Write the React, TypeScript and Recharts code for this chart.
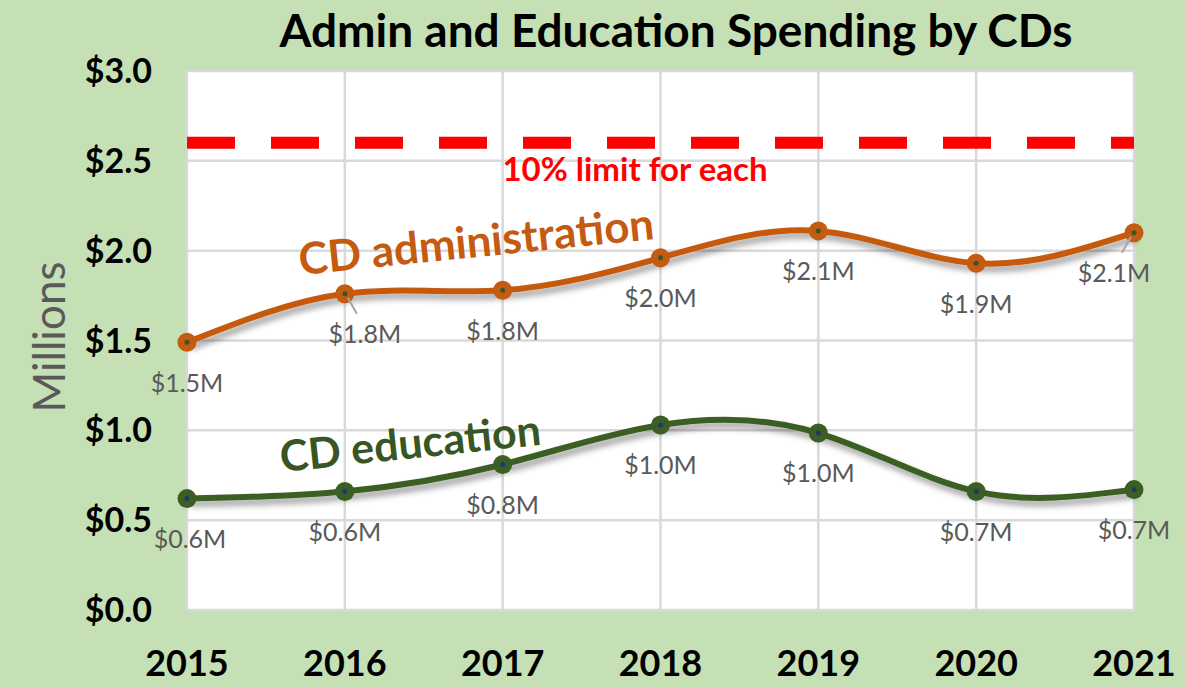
import React from "react";
import {
  LineChart, Line, XAxis, YAxis, CartesianGrid, ReferenceLine, LabelList,
} from "recharts";

const years = ["2015", "2016", "2017", "2018", "2019", "2020", "2021"];
const adminSpend = [1.49, 1.76, 1.78, 1.96, 2.11, 1.93, 2.1];
const eduSpend = [0.62, 0.66, 0.81, 1.03, 0.985, 0.66, 0.67];
const adminLabels = ["$1.5M", "$1.8M", "$1.8M", "$2.0M", "$2.1M", "$1.9M", "$2.1M"];
const eduLabels = ["$0.6M", "$0.6M", "$0.8M", "$1.0M", "$1.0M", "$0.7M", "$0.7M"];
const yTicks = [0, 0.5, 1, 1.5, 2, 2.5, 3];
const limitValue = 2.6;

const ORANGE = "#C55A11";
const GREEN = "#3B5E24";
const BG = "#C5E0B4";
const FONT = "Lato, 'Open Sans', sans-serif";

const data = years.map((year, i) => ({
  year,
  admin: adminSpend[i],
  edu: eduSpend[i],
  adminLabel: adminLabels[i],
  eduLabel: eduLabels[i],
}));

// small nudges so labels sit like the original (dx, with leader line?)
const adminNudge: Record<number, [number, boolean]> = { 1: [20, true], 6: [-20, true] };
const eduNudge: Record<number, [number, boolean]> = { 0: [3, false] };

function makeLabel(nudge: Record<number, [number, boolean]>) {
  return (props: any) => {
    const { x, y, value, index } = props;
    const [dx, leader] = nudge[index] ?? [0, false];
    return (
      <g>
        {leader && (
          <line
            x1={x + (dx > 0 ? 3 : -3)} y1={y + 4}
            x2={x + dx * 0.6} y2={y + 20}
            stroke="#a6a6a6" strokeWidth={2}
          />
        )}
        <text
          x={x + dx} y={y + 43} textAnchor="middle" dominantBaseline="middle"
          fontSize={25} fill="#595959" fontFamily={FONT}
        >
          {value}
        </text>
      </g>
    );
  };
}

function makeDot(outer: string, inner: string) {
  return (props: any) => {
    const { cx, cy, index } = props;
    return (
      <g key={index}>
        <circle cx={cx} cy={cy} r={9.5} fill={outer} />
        <circle cx={cx} cy={cy} r={2.5} fill={inner} />
      </g>
    );
  };
}

export default function App() {
  return (
    <div style={{ position: "relative", width: 1186, height: 687, background: BG, fontFamily: FONT, overflow: "hidden" }}>
      <style>{`body{margin:0}`}</style>
      <LineChart
        width={1186}
        height={687}
        data={data}
        margin={{ top: 71, right: 52, bottom: 0, left: 0 }}
      >
        <defs>
          <filter id="shadow" x="-10%" y="-30%" width="120%" height="160%">
            <feDropShadow dx={3} dy={5} stdDeviation={3} floodColor="#000" floodOpacity={0.4} />
          </filter>
        </defs>
        <CartesianGrid fill="#ffffff" stroke="#d9d9d9" strokeWidth={2.5} />
        <XAxis
          dataKey="year"
          axisLine={false}
          tickLine={false}
          tickSize={0}
          tickMargin={40}
          height={77}
          tick={{ fontSize: 36, fontWeight: 700, fill: "#000", fontFamily: FONT }}
        />
        <YAxis
          domain={[0, 3]}
          ticks={yTicks}
          width={187}
          axisLine={false}
          tickLine={false}
          tickSize={0}
          tickMargin={35}
          tickFormatter={(v: number) => `$${v.toFixed(1)}`}
          tick={{ fontSize: 34, fontWeight: 700, fill: "#000", fontFamily: FONT }}
        />
        <ReferenceLine y={limitValue} stroke="#FF0000" strokeWidth={12} strokeDasharray="48 36" />
        <Line
          dataKey="admin"
          type="natural"
          stroke={ORANGE}
          strokeWidth={6}
          filter="url(#shadow)"
          dot={makeDot(ORANGE, "#375623")}
          isAnimationActive={false}
        >
          <LabelList dataKey="adminLabel" content={makeLabel(adminNudge)} />
        </Line>
        <Line
          dataKey="edu"
          type="natural"
          stroke={GREEN}
          strokeWidth={6}
          filter="url(#shadow)"
          dot={makeDot(GREEN, "#1F3864")}
          isAnimationActive={false}
        >
          <LabelList dataKey="eduLabel" content={makeLabel(eduNudge)} />
        </Line>
      </LineChart>

      <div style={{ position: "absolute", left: 0, width: 1352, top: 2, textAlign: "center", fontSize: 46, fontWeight: 700, color: "#000", lineHeight: "56px" }}>
        Admin and Education Spending by CDs
      </div>
      <div style={{ position: "absolute", left: 48, top: 337, transform: "translate(-50%, -50%) rotate(-90deg)", fontSize: 44, color: "#595959", whiteSpace: "nowrap" }}>
        Millions
      </div>
      <div style={{ position: "absolute", left: 635, top: 168, transform: "translate(-50%, -50%)", fontSize: 33, fontWeight: 700, color: "#FF0000", whiteSpace: "nowrap" }}>
        10% limit for each
      </div>
      <div style={{ position: "absolute", left: 476, top: 240, transform: "translate(-50%, -50%) rotate(-5.8deg)", fontSize: 44, fontWeight: 700, color: ORANGE, whiteSpace: "nowrap" }}>
        CD administration
      </div>
      <div style={{ position: "absolute", left: 410, top: 442, transform: "translate(-50%, -50%) rotate(-6deg)", fontSize: 43, fontWeight: 700, color: "#375623", whiteSpace: "nowrap" }}>
        CD education
      </div>
    </div>
  );
}
